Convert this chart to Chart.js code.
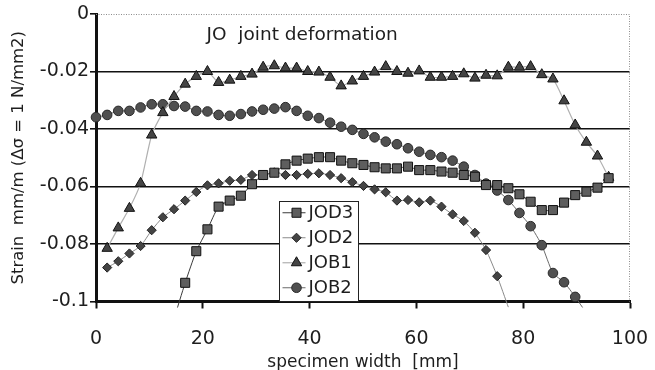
<!DOCTYPE html>
<html>
<head>
<meta charset="utf-8">
<script src="https://cdn.jsdelivr.net/npm/chart.js@4.4.0/dist/chart.umd.min.js"></script>
<style>
  html, body { margin: 0; padding: 0; background: #fff; }
</style>
</head>
<body>
<canvas id="strainChart" width="655" height="370"></canvas>
<script>
// measuring positions across the specimen [mm]
const widths = [0, 2.09, 4.17, 6.26, 8.35, 10.43, 12.52, 14.61, 16.70, 18.78,
  20.87, 22.96, 25.04, 27.13, 29.22, 31.30, 33.39, 35.48, 37.57, 39.65,
  41.74, 43.83, 45.91, 48.00, 50.09, 52.17, 54.26, 56.35, 58.43, 60.52,
  62.61, 64.70, 66.78, 68.87, 70.96, 73.04, 75.13, 77.22, 79.30, 81.39,
  83.48, 85.57, 87.65, 89.74, 91.83, 93.91, 96.00];

// strain per unit stress, mm/m (null = not measured)
const jod3 = [null, null, null, null, null, null, null, -0.106, -0.0935, -0.0825,
  -0.0749, -0.0670, -0.0649, -0.0632, -0.0592, -0.0560, -0.0552, -0.0523, -0.0510, -0.0503,
  -0.0498, -0.0498, -0.0510, -0.0519, -0.0525, -0.0533, -0.0537, -0.0537, -0.0531, -0.0543,
  -0.0543, -0.0548, -0.0552, -0.0560, -0.0566, -0.0595, -0.0595, -0.0606, -0.0627, -0.0653,
  -0.0682, -0.0682, -0.0656, -0.0630, -0.0618, -0.0604, -0.0571];

const jod2 = [null, -0.0882, -0.0860, -0.0833, -0.0807, -0.0752, -0.0707, -0.0679, -0.0649, -0.0619,
  -0.0596, -0.0589, -0.0580, -0.0577, -0.0560, -0.0560, -0.0551, -0.0560, -0.0560, -0.0556,
  -0.0554, -0.0560, -0.0571, -0.0585, -0.0598, -0.0610, -0.0620, -0.0649, -0.0647, -0.0655,
  -0.0649, -0.0670, -0.0697, -0.0720, -0.0761, -0.0821, -0.0912, -0.1020, null, null,
  null, null, null, null, null, null, null];

const job1 = [null, -0.0815, -0.0744, -0.0676, -0.0589, -0.0421, -0.0343, -0.0287, -0.0244, -0.0217,
  -0.0200, -0.0238, -0.0230, -0.0217, -0.0209, -0.0185, -0.0180, -0.0188, -0.0188, -0.0200,
  -0.0202, -0.0220, -0.0250, -0.0233, -0.0217, -0.0202, -0.0183, -0.0200, -0.0206, -0.0198,
  -0.0220, -0.0220, -0.0217, -0.0208, -0.0223, -0.0213, -0.0215, -0.0185, -0.0185, -0.0183,
  -0.0211, -0.0226, -0.0302, -0.0386, -0.0446, -0.0494, -0.0568];

const job2 = [-0.0359, -0.0351, -0.0337, -0.0337, -0.0325, -0.0314, -0.0314, -0.0320, -0.0322, -0.0337,
  -0.0339, -0.0351, -0.0354, -0.0348, -0.0339, -0.0333, -0.0329, -0.0324, -0.0337, -0.0354,
  -0.0362, -0.0378, -0.0392, -0.0403, -0.0417, -0.0429, -0.0444, -0.0453, -0.0467, -0.0479,
  -0.0490, -0.0498, -0.0510, -0.0531, -0.0560, -0.0590, -0.0614, -0.0647, -0.0692, -0.0738,
  -0.0804, -0.0901, -0.0933, -0.0984, -0.1040, null, null];

const seriesNames = ['JOD3', 'JOD2', 'JOB1', 'JOB2'];
const yTicks = [0, -0.02, -0.04, -0.06, -0.08, -0.1];
const xTicks = [0, 20, 40, 60, 80, 100];

const FONT = "'DejaVu Sans', sans-serif";
const INK = '#1e1e1e';

function toPoints(values) {
  const pts = [];
  values.forEach((v, i) => {
    if (v !== null) pts.push({ x: widths[i], y: v });
  });
  return pts;
}

// points below the axis only carry the line out of the frame
function radiusFor(r) {
  return ctx => (ctx.raw && ctx.raw.y < -0.1 ? 0 : r);
}

const styles = [
  { style: 'rect', radius: 6.4, line: '#3a3a3a', fill: '#5e5e5e', border: '#111', width: 1 },
  { style: 'rectRot', radius: 4.6, line: '#8a8a8a', fill: '#444', border: '#222', width: 1 },
  { style: 'triangle', radius: 6, line: '#b0b0b0', fill: '#444', border: '#111', width: 1.2 },
  { style: 'circle', radius: 4.8, line: '#6a6a6a', fill: '#505050', border: '#2a2a2a', width: 1 }
];

const datasets = [jod3, jod2, job1, job2].map((vals, i) => ({
  label: seriesNames[i],
  data: toPoints(vals),
  borderColor: styles[i].line,
  borderWidth: styles[i].width,
  backgroundColor: styles[i].fill,
  pointStyle: styles[i].style,
  pointRadius: radiusFor(styles[i].radius),
  pointBackgroundColor: styles[i].fill,
  pointBorderColor: styles[i].border,
  pointBorderWidth: 1,
  pointHoverRadius: radiusFor(styles[i].radius),
  tension: 0.2,
  clip: { left: 8, top: 8, right: 8, bottom: 6 }
}));

// dotted frame on the top and right edges of the plot
const frame = {
  id: 'frame',
  beforeDatasetsDraw(chart) {
    const { ctx, chartArea: a } = chart;
    ctx.save();
    ctx.strokeStyle = '#8c8c8c';
    ctx.lineWidth = 1;
    ctx.setLineDash([1, 1.5]);
    ctx.beginPath();
    ctx.moveTo(a.left, a.top + 0.5);
    ctx.lineTo(a.right - 0.5, a.top + 0.5);
    ctx.lineTo(a.right - 0.5, a.bottom);
    ctx.stroke();
    ctx.restore();
  }
};

// caption inside the plot
const caption = {
  id: 'caption',
  afterDatasetsDraw(chart) {
    const { ctx, scales: { x, y } } = chart;
    ctx.save();
    ctx.font = '18.5px ' + FONT;
    ctx.fillStyle = INK;
    ctx.textAlign = 'left';
    ctx.textBaseline = 'middle';
    ctx.fillText('JO  joint deformation', x.getPixelForValue(20.7), y.getPixelForValue(-0.0072));
    ctx.restore();
  }
};

// boxed legend in the lower middle of the plot
const legendBox = {
  id: 'legendBox',
  afterDatasetsDraw(chart) {
    const { ctx, scales: { x, y } } = chart;
    const left = Math.round(x.getPixelForValue(34.3)) + 0.5;
    const right = Math.round(x.getPixelForValue(49.1)) + 0.5;
    const top = Math.round(y.getPixelForValue(-0.0652)) + 0.5;
    const bottom = y.getPixelForValue(-0.1);
    ctx.save();
    ctx.fillStyle = '#fff';
    ctx.fillRect(left, top, right - left, bottom - top);
    ctx.strokeStyle = '#222';
    ctx.lineWidth = 1;
    ctx.strokeRect(left, top, right - left, bottom - top);
    const rowH = (bottom - top) / 4;
    chart.data.datasets.forEach((ds, i) => {
      const cy = top + rowH * (i + 0.45);
      ctx.strokeStyle = ds.borderColor;
      ctx.lineWidth = ds.borderWidth;
      ctx.beginPath();
      ctx.moveTo(left + 3, cy);
      ctx.lineTo(left + 26, cy);
      ctx.stroke();
      ctx.fillStyle = ds.pointBackgroundColor;
      ctx.strokeStyle = ds.pointBorderColor;
      ctx.lineWidth = 1;
      Chart.helpers.drawPoint(ctx, {
        pointStyle: ds.pointStyle, radius: styles[i].radius, rotation: 0, borderWidth: 1
      }, left + 17, cy);
      ctx.fillStyle = INK;
      ctx.font = '18px ' + FONT;
      ctx.textAlign = 'left';
      ctx.textBaseline = 'middle';
      ctx.fillText(ds.label, left + 29, cy + 1);
    });
    ctx.restore();
  }
};

new Chart(document.getElementById('strainChart'), {
  type: 'line',
  data: { datasets },
  options: {
    responsive: false,
    animation: false,
    events: [],
    layout: { autoPadding: false, padding: { top: 14, right: 25, left: 0, bottom: 0 } },
    plugins: { legend: { display: false }, tooltip: { enabled: false } },
    scales: {
      x: {
        type: 'linear',
        min: 0,
        max: 100,
        afterBuildTicks: s => { s.ticks = xTicks.map(v => ({ value: v })); },
        afterFit: s => { s.height = 68.5; s.paddingLeft = 0; s.paddingRight = 0; },
        border: { color: '#111', width: 3 },
        grid: { drawOnChartArea: false, tickLength: 7, tickWidth: 2, tickColor: '#111' },
        ticks: { color: INK, font: { family: FONT, size: 19 }, padding: 19 },
        title: {
          display: true,
          text: 'specimen width  [mm]',
          color: INK,
          font: { family: FONT, size: 17, lineHeight: 1 },
          padding: { top: 0, bottom: -1.5 }
        }
      },
      y: {
        min: -0.1,
        max: 0,
        afterBuildTicks: s => { s.ticks = yTicks.slice().reverse().map(v => ({ value: v })); },
        afterFit: s => { s.width = 96; s.paddingTop = 0; s.paddingBottom = 0; },
        border: { color: '#111', width: 3 },
        grid: {
          color: c => (c.tick && c.tick.value < -0.001 && c.tick.value > -0.099 ? '#111' : 'rgba(0,0,0,0)'),
          lineWidth: 1.6,
          tickLength: 6,
          tickWidth: 1.6,
          tickColor: '#111'
        },
        ticks: {
          color: INK,
          font: { family: FONT, size: 19 },
          padding: 1,
          callback: v => String(Number(v.toFixed(2)))
        },
        title: {
          display: true,
          text: 'Strain  mm/m (\u0394\u03c3 = 1 N/mm2)',
          color: INK,
          font: { family: FONT, size: 16.5, lineHeight: 1 },
          padding: { top: 10, bottom: 0 }
        }
      }
    }
  },
  plugins: [frame, caption, legendBox]
});
</script>
</body>
</html>
